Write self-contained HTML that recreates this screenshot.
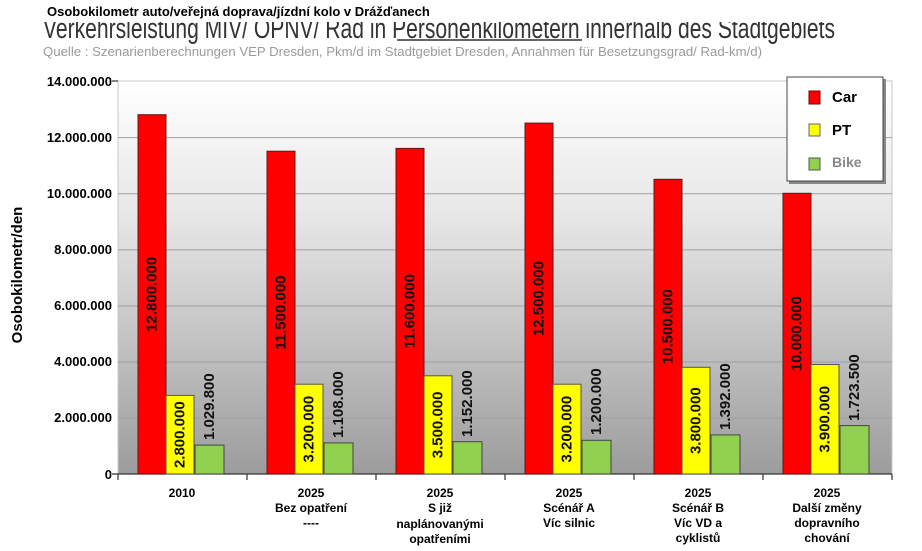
<!DOCTYPE html>
<html><head><meta charset="utf-8"><style>
html,body{margin:0;padding:0;background:#fff;}
svg{display:block;font-family:"Liberation Sans",Arial,sans-serif;}
.v{font-size:15px;font-weight:bold;fill:#111;}
.yl{font-size:13px;font-weight:bold;text-anchor:end;}
.cl{font-size:12px;font-weight:bold;text-anchor:middle;}
</style></head><body>
<svg width="922" height="551" viewBox="0 0 922 551" xmlns="http://www.w3.org/2000/svg">
<defs>
<linearGradient id="bg" x1="0" y1="0" x2="0" y2="1">
<stop offset="0" stop-color="#ffffff"/><stop offset="0.35" stop-color="#e6e6e6"/><stop offset="1" stop-color="#9c9c9c"/>
</linearGradient>
</defs>
<text x="43" y="38" font-size="29" fill="#333" textLength="792" lengthAdjust="spacingAndGlyphs">Verkehrsleistung MIV/ ÖPNV/ Rad in Personenkilometern innerhalb des Stadtgebiets</text>
<line x1="397" y1="40" x2="582" y2="40" stroke="#333" stroke-width="1.5"/>
<rect x="0" y="0" width="922" height="22" fill="#fff"/>
<text x="47" y="16" font-size="13" font-weight="bold" fill="#000">Osobokilometr auto/veřejná doprava/jízdní kolo v Drážďanech</text>
<text x="43" y="56" font-size="13" fill="#9a9a9a" textLength="719" lengthAdjust="spacingAndGlyphs">Quelle : Szenarienberechnungen VEP Dresden, Pkm/d im Stadtgebiet Dresden, Annahmen für Besetzungsgrad/ Rad-km/d)</text>

<rect x="118" y="81" width="774" height="393" fill="url(#bg)" stroke="#c8c8c8"/>
<g stroke="#a0a0a0" stroke-width="1">
<line x1="118" y1="137.6" x2="892" y2="137.6"/><line x1="118" y1="193.7" x2="892" y2="193.7"/>
<line x1="118" y1="249.9" x2="892" y2="249.9"/><line x1="118" y1="306" x2="892" y2="306"/>
<line x1="118" y1="362" x2="892" y2="362"/><line x1="118" y1="418" x2="892" y2="418"/>
</g>
<g stroke="#333" stroke-width="1.2">
<line x1="112" y1="474" x2="892" y2="474"/><line x1="112" y1="81" x2="118" y2="81"/>
<line x1="118" y1="474" x2="118" y2="480"/><line x1="247" y1="474" x2="247" y2="480"/><line x1="376" y1="474" x2="376" y2="480"/><line x1="505" y1="474" x2="505" y2="480"/><line x1="634" y1="474" x2="634" y2="480"/><line x1="763" y1="474" x2="763" y2="480"/><line x1="892" y1="474" x2="892" y2="480"/>
</g>
<g class="yl">
<text x="112" y="86">14.000.000</text><text x="112" y="142">12.000.000</text><text x="112" y="198">10.000.000</text>
<text x="112" y="254">8.000.000</text><text x="112" y="310">6.000.000</text><text x="112" y="366">4.000.000</text>
<text x="112" y="422">2.000.000</text><text x="112" y="479">0</text>
</g>
<text transform="translate(22,275) rotate(-90)" text-anchor="middle" font-size="15" font-weight="bold">Osobokilometr/den</text>

<g stroke="#5a1a1a" stroke-width="1">
<g fill="#ff0000">
<rect x="138" y="114.7" width="28" height="359.3"/><rect x="267" y="151.2" width="28" height="322.8"/>
<rect x="396" y="148.4" width="28" height="325.6"/><rect x="525" y="123.1" width="28" height="350.9"/>
<rect x="654" y="179.3" width="28" height="294.7"/><rect x="783" y="193.3" width="28" height="280.7"/>
</g>
<g fill="#ffff00" stroke="#555">
<rect x="166" y="395.4" width="28" height="78.6"/><rect x="295" y="384.2" width="28" height="89.8"/>
<rect x="424" y="375.8" width="28" height="98.2"/><rect x="553" y="384.2" width="28" height="89.8"/>
<rect x="682" y="367.3" width="28" height="106.7"/><rect x="811" y="364.5" width="28" height="109.5"/>
</g>
<g fill="#92d050" stroke="#444">
<rect x="195" y="445.1" width="29" height="28.9"/><rect x="324" y="442.9" width="29" height="31.1"/>
<rect x="453" y="441.7" width="29" height="32.3"/><rect x="582" y="440.3" width="29" height="33.7"/>
<rect x="711" y="434.9" width="29" height="39.1"/><rect x="840" y="425.6" width="29" height="48.4"/>
</g>
</g>
<g class="v" text-anchor="middle" dominant-baseline="central">
<text transform="translate(152,294.3) rotate(-90)">12.800.000</text>
<text transform="translate(281,312.6) rotate(-90)">11.500.000</text>
<text transform="translate(410,311.2) rotate(-90)">11.600.000</text>
<text transform="translate(539,298.6) rotate(-90)">12.500.000</text>
<text transform="translate(668,326.7) rotate(-90)">10.500.000</text>
<text transform="translate(797,333.7) rotate(-90)">10.000.000</text>
<text transform="translate(180,434.7) rotate(-90)">2.800.000</text>
<text transform="translate(309,429.1) rotate(-90)">3.200.000</text>
<text transform="translate(438,424.9) rotate(-90)">3.500.000</text>
<text transform="translate(567,429.1) rotate(-90)">3.200.000</text>
<text transform="translate(696,420.7) rotate(-90)">3.800.000</text>
<text transform="translate(825,419.3) rotate(-90)">3.900.000</text>
</g>
<g class="v" text-anchor="start" dominant-baseline="central">
<text transform="translate(209.5,440) rotate(-90)">1.029.800</text>
<text transform="translate(338.5,438) rotate(-90)">1.108.000</text>
<text transform="translate(467.5,437) rotate(-90)">1.152.000</text>
<text transform="translate(596.5,435) rotate(-90)">1.200.000</text>
<text transform="translate(725.5,430) rotate(-90)">1.392.000</text>
<text transform="translate(854.5,421) rotate(-90)">1.723.500</text>
</g>
<g class="cl">
<text x="182" y="497">2010</text>
<text x="311" y="497">2025</text><text x="311" y="512">Bez opatření</text><text x="311" y="527">----</text>
<text x="440" y="497">2025</text><text x="440" y="512">S již</text><text x="440" y="528">naplánovanými</text><text x="440" y="543">opatřeními</text>
<text x="569" y="497">2025</text><text x="569" y="512">Scénář A</text><text x="569" y="527">Víc silnic</text>
<text x="698" y="497">2025</text><text x="698" y="512">Scénář B</text><text x="698" y="527">Víc VD a</text><text x="698" y="542">cyklistů</text>
<text x="827" y="497">2025</text><text x="827" y="512">Další změny</text><text x="827" y="527">dopravního</text><text x="827" y="542">chování</text>
</g>
<rect x="789" y="79" width="97" height="105" fill="#888"/>
<rect x="787" y="77" width="96" height="104" fill="#fff" stroke="#444"/>
<rect x="809" y="91" width="11" height="13" fill="#ff0000" stroke="#700"/>
<text x="832" y="102" font-size="15" font-weight="bold">Car</text>
<rect x="809" y="124" width="11" height="12" fill="#ffff00" stroke="#666"/>
<text x="832" y="135" font-size="15" font-weight="bold">PT</text>
<rect x="809" y="158" width="11" height="12" fill="#92d050" stroke="#555"/>
<text x="832" y="167" font-size="14" font-weight="bold" fill="#888">Bike</text>
</svg>
</body></html>
